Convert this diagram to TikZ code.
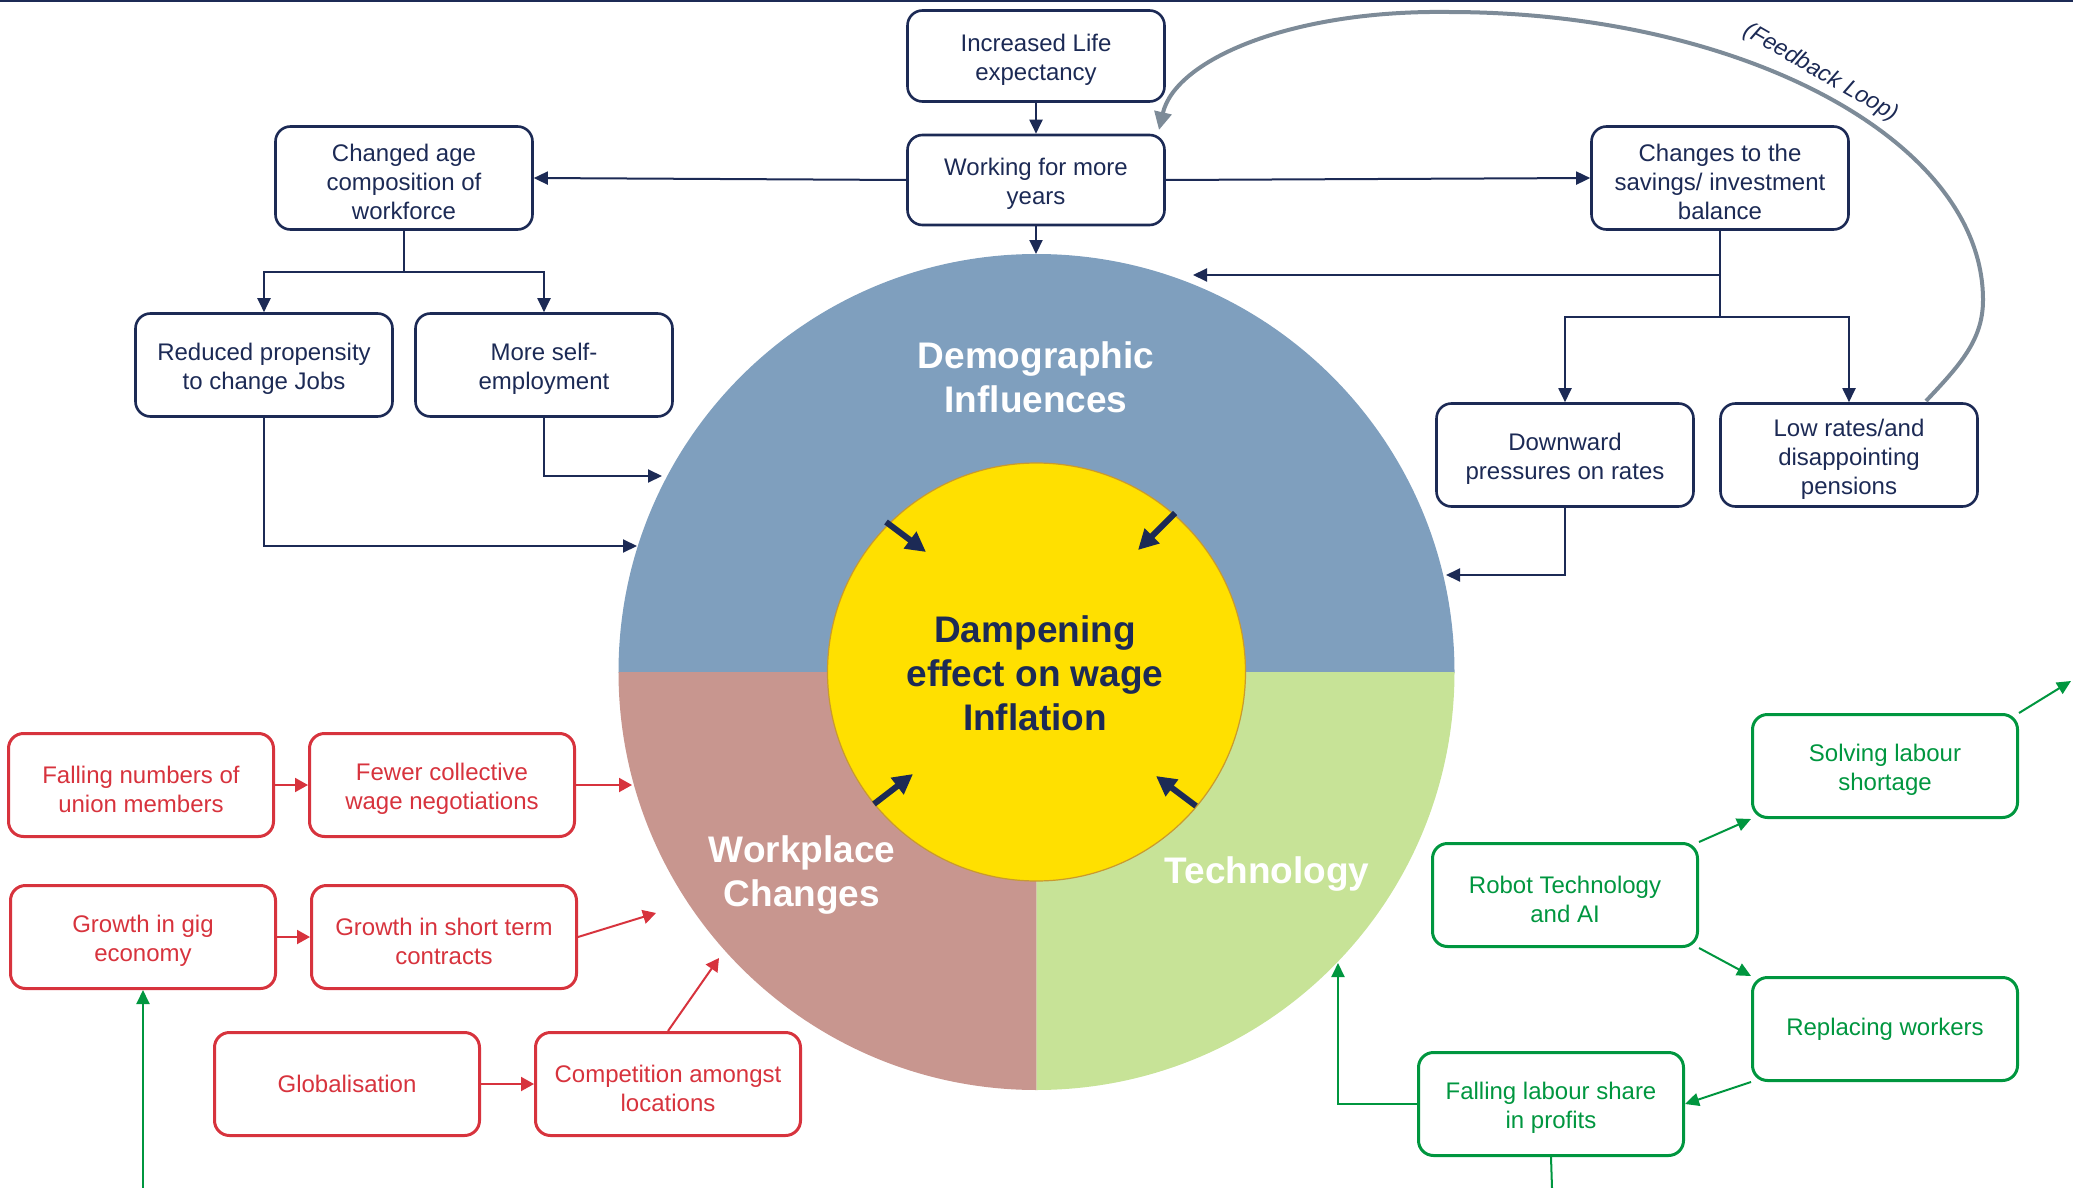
\documentclass[tikz,border=0pt]{standalone}
\usepackage{fontspec}
\setmainfont{Liberation Sans}
\usetikzlibrary{arrows.meta}
\definecolor{navy}{HTML}{1C2A55}
\definecolor{cblue}{HTML}{7F9FBE}
\definecolor{cpink}{HTML}{C8968F}
\definecolor{cgreen}{HTML}{C7E397}
\definecolor{cyel}{HTML}{FFE000}
\definecolor{cred}{HTML}{D7333D}
\definecolor{cgrn}{HTML}{00963F}
\definecolor{cgray}{HTML}{7D8B98}
\definecolor{cring}{HTML}{C99A2E}
\newcommand\ts{\rule{0pt}{25.5pt}}
\begin{document}
\begin{tikzpicture}[x=1pt,y=-1pt,
  boxfont/.style={font=\fontsize{24}{29}\selectfont},
  nbox/.style={boxfont, draw=navy, text=navy, line width=2.6pt, rounded corners=15pt,
    minimum width=257pt, minimum height=103pt, align=center, inner sep=0pt},
  rbox/.style={boxfont, draw=cred, text=cred, line width=3pt, rounded corners=15pt,
    minimum width=265pt, minimum height=103pt, align=center, inner sep=0pt},
  gbox/.style={boxfont, draw=cgrn, text=cgrn, line width=3pt, rounded corners=15pt,
    minimum width=265pt, minimum height=103pt, align=center, inner sep=0pt},
  narr/.style={draw=navy, line width=2pt, -{Triangle[length=14pt,width=13pt]}},
  nline/.style={draw=navy, line width=2pt},
  rarr/.style={draw=cred, line width=2pt, -{Triangle[length=13pt,width=14pt]}},
  garr/.style={draw=cgrn, line width=2pt, -{Triangle[length=14pt,width=13pt]}},
  gline/.style={draw=cgrn, line width=2pt},
  inarr/.style={draw=navy, line width=6pt, -{Triangle[length=20pt,width=20pt]}},
  seglabel/.style={text=white, font=\fontsize{37}{44}\selectfont\bfseries, align=center}
]
\useasboundingbox (0,0) rectangle (2073,1188);
\fill[navy] (0,0) rectangle (2073,2.5);

% ---- central circle ----
\coordinate (C) at (1036.5,672);
\begin{scope}
  \clip (600,200) rectangle (1500,672);
  \fill[cblue] (C) circle[radius=418];
\end{scope}
\begin{scope}
  \clip (600,672) rectangle (1036.5,1120);
  \fill[cpink] (C) circle[radius=418];
\end{scope}
\begin{scope}
  \clip (1036.5,672) rectangle (1500,1120);
  \fill[cgreen] (C) circle[radius=418];
\end{scope}
\fill[cyel, draw=cring, line width=1.2pt] (C) circle[radius=209];

\node[seglabel] (demo) at (1036,377) {Demographic\\Influences};
\node[seglabel] (workpl) at (802,875) {Workplace\\Changes};
\node[seglabel] (techl) at (1267,874) {Technology};
\node[seglabel, text=navy] (damp) at (1035,673) {Dampening\\effect on wage\\Inflation};

% inner arrows
\coordinate (ia1) at (886,522); \coordinate (ib1) at (926,552);
\coordinate (ia2) at (1175,513); \coordinate (ib2) at (1138,550);
\coordinate (ia3) at (874,804); \coordinate (ib3) at (913,774);
\coordinate (ia4) at (1196,806); \coordinate (ib4) at (1156,776);
\draw[inarr] (ia1) -- (ib1);
\draw[inarr] (ia2) -- (ib2);
\draw[inarr] (ia3) -- (ib3);
\draw[inarr] (ia4) -- (ib4);

% ---- navy boxes ----
\node[nbox, minimum height=91pt] (inc) at (1036,56) {\ts Increased Life\\expectancy};
\node[nbox, minimum height=90pt] (work) at (1036,180) {\ts Working for more\\years};
\node[nbox] (age) at (404,178) {\ts Changed age\\composition of\\workforce};
\node[nbox] (sav) at (1720,178) {\ts Changes to the\\savings/ investment\\balance};
\node[nbox] (redp) at (264,365) {\ts Reduced propensity\\to change Jobs};
\node[nbox] (self) at (544,365) {\ts More self-\\employment};
\node[nbox] (down) at (1565,455) {\ts Downward\\pressures on rates};
\node[nbox] (low) at (1849,455) {\ts Low rates/and\\disappointing\\pensions};

% ---- red boxes ----
\node[rbox] (fall) at (141,785) {\ts Falling numbers of\\union members};
\node[rbox] (fewer) at (442,785) {\ts Fewer collective\\wage negotiations};
\node[rbox] (gig) at (143,937) {\ts Growth in gig\\economy};
\node[rbox] (short) at (444,937) {\ts Growth in short term\\contracts};
\node[rbox] (glob) at (347,1084) {Globalisation};
\node[rbox] (comp) at (668,1084) {\ts Competition amongst\\locations};

% ---- green boxes ----
\node[gbox] (solve) at (1885,766) {\ts Solving labour\\shortage};
\node[gbox] (robot) at (1565,895) {\ts Robot Technology\\and AI};
\node[gbox] (repl) at (1885,1029) {Replacing workers};
\node[gbox] (flab) at (1551,1104) {\ts Falling labour share\\in profits};

% ---- navy connectors ----
\coordinate (ctop) at (1036,254);
\coordinate (agesplit) at (404,272);
\coordinate (cl1) at (637,546);
\coordinate (cl2) at (662,476);
\coordinate (savA) at (1720,275);
\coordinate (savB) at (1720,317);
\coordinate (cr1) at (1193,275);
\coordinate (cr2) at (1446,575);
\draw[narr] (inc.south) -- (work.north);
\draw[narr] (work.west) -- (age.east);
\draw[narr] (work.east) -- (sav.west);
\draw[narr] (work.south) -- (ctop);
\draw[nline] (age.south) -- (agesplit);
\draw[narr] (agesplit) -| (redp.north);
\draw[narr] (agesplit) -| (self.north);
\draw[narr] (redp.south) |- (cl1);
\draw[narr] (self.south) |- (cl2);
\draw[nline] (sav.south) -- (savB);
\draw[narr] (savA) -- (cr1);
\draw[narr] (savB) -| (down.north);
\draw[narr] (savB) -| (low.north);
\draw[narr] (down.south) |- (cr2);

% ---- feedback loop ----
\coordinate (fbs) at (1926,401);
\coordinate (fbe) at (1159,130);
\draw[cgray, line width=4pt, -{Triangle[length=18pt,width=17pt]}]
  (fbs) .. controls (1960,365) and (1983,340) .. (1983,300)
        .. controls (1983,141) and (1743,12) .. (1448,12)
        .. controls (1290,10) and (1175,60) .. (fbe);
\node[text=navy, font=\fontsize{23}{27}\selectfont\itshape, rotate=-30] (fbl) at (1821,73) {(Feedback Loop)};

% ---- red connectors ----
\coordinate (cw1) at (632,785);
\coordinate (cw2) at (656,913);
\coordinate (cw3) at (719,958);
\draw[rarr] (fall.east) -- (fewer.west);
\draw[rarr] (fewer.east) -- (cw1);
\draw[rarr] (gig.east) -- (short.west);
\draw[rarr] (short.east) -- (cw2);
\draw[rarr] (glob.east) -- (comp.west);
\draw[rarr] (comp.north) -- (cw3);

% ---- green connectors ----
\coordinate (goff) at (2071,681);
\coordinate (ct) at (1338,963);
\coordinate (gbot1) at (1552,1188);
\coordinate (gbot2) at (143,1188);
\draw[garr] (robot.north east) -- (solve.south west);
\draw[garr] (solve.north east) -- (goff);
\draw[garr] (robot.south east) -- (repl.north west);
\draw[garr] (repl.south west) -- (flab.east);
\draw[garr] (flab.west) -| (ct);
\draw[gline] (flab.south) -- (gbot1);
\draw[garr] (gbot2) -- (gig.south);
\end{tikzpicture}
\end{document}
